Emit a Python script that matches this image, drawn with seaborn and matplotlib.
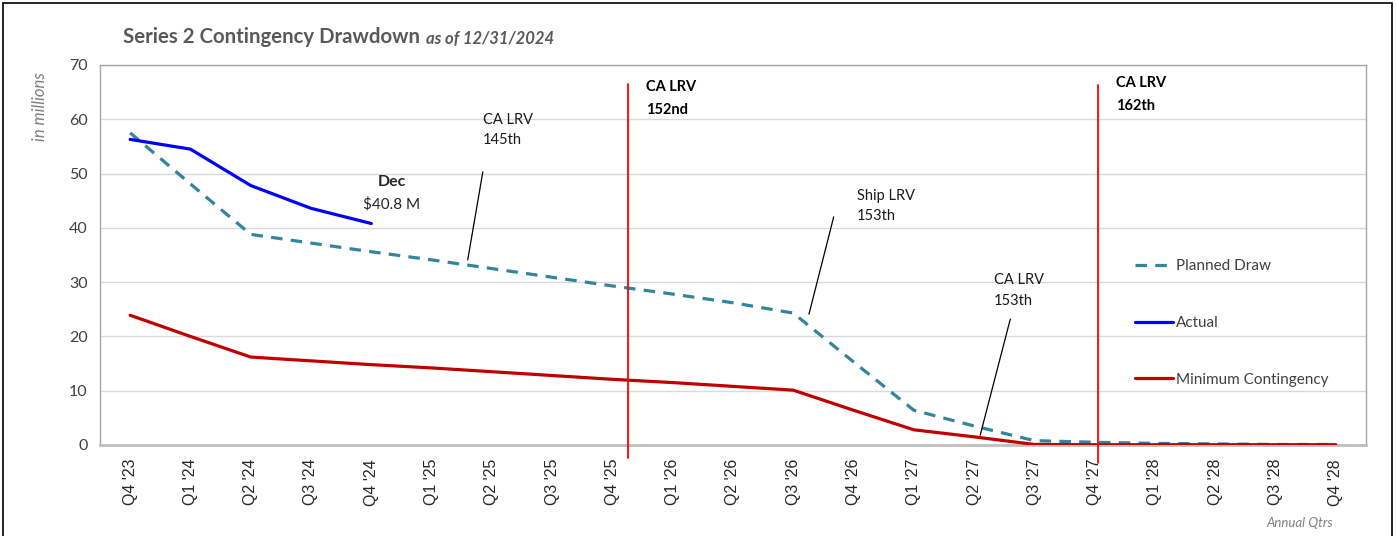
import matplotlib
matplotlib.use("Agg")
import matplotlib.pyplot as plt
from matplotlib.patches import Rectangle
import pandas as pd
import seaborn as sns

# Quarterly schedule
quarters = ["Q4 '23", "Q1 '24", "Q2 '24", "Q3 '24", "Q4 '24", "Q1 '25", "Q2 '25",
            "Q3 '25", "Q4 '25", "Q1 '26", "Q2 '26", "Q3 '26", "Q4 '26", "Q1 '27",
            "Q2 '27", "Q3 '27", "Q4 '27", "Q1 '28", "Q2 '28", "Q3 '28", "Q4 '28"]

# Contingency balances, $ millions
planned_draw = [57.5, 48.1, 38.8, 37.2, 35.6, 34.1, 32.5, 30.9, 29.3, 27.8, 26.2, 24.3,
                15.3, 6.4, 3.5, 0.8, 0.5, 0.3, 0.2, 0.1, 0.1]
actual_quarters = quarters[:5]
actual = [56.3, 54.5, 47.8, 43.6, 40.8]
minimum_contingency = [23.9, 20.0, 16.2, 15.5, 14.8, 14.2, 13.5, 12.8, 12.1, 11.5, 10.8,
                       10.1, 6.4, 2.8, 1.5, 0.1, 0.05, 0.05, 0.05, 0.05, 0.05]

series_names = ["Planned Draw", "Actual", "Minimum Contingency"]
y_ticks = [0, 10, 20, 30, 40, 50, 60, 70]

sns.set_style("white")
plt.rcParams["font.family"] = ["Lato", "DejaVu Sans"]

W, H = 1396, 536
fig = plt.figure(figsize=(W / 100, H / 100), dpi=100)
ax = fig.add_axes([100 / W, 91 / H, 1266 / W, 380 / H])

planned_df = pd.DataFrame({"quarter": quarters, "value": planned_draw})
actual_df = pd.DataFrame({"quarter": actual_quarters, "value": actual})
minimum_df = pd.DataFrame({"quarter": quarters, "value": minimum_contingency})

sns.lineplot(data=planned_df, x="quarter", y="value", sort=False, ax=ax,
             color="#31859C", linewidth=2.3, linestyle=(0, (3.6, 2.6)),
             label=series_names[0], zorder=3)
sns.lineplot(data=actual_df, x="quarter", y="value", sort=False, ax=ax,
             color="#0000FF", linewidth=2.3, label=series_names[1], zorder=4)
sns.lineplot(data=minimum_df, x="quarter", y="value", sort=False, ax=ax,
             color="#C00000", linewidth=2.3, label=series_names[2], zorder=3)

ax.set_xlim(-0.5, len(quarters) - 0.5)
ax.set_ylim(0, 70)
ax.set_yticks(y_ticks)
ax.set_yticklabels([str(v) for v in y_ticks], fontsize=11.5, color="#404040")
ax.set_xlabel("")
ax.set_ylabel("")
ax.grid(axis="y", color="#d9d9d9", linewidth=1)
ax.grid(axis="x", visible=False)
ax.set_axisbelow(True)
for side in ["top", "right", "left"]:
    ax.spines[side].set_color("#a6a6a6")
    ax.spines[side].set_linewidth(1)
ax.spines["bottom"].set_color("#bfbfbf")
ax.spines["bottom"].set_linewidth(2)
ax.tick_params(axis="y", length=0, pad=9)
ax.tick_params(axis="x", length=0, pad=10)
for lbl in ax.get_xticklabels():
    lbl.set_rotation(90)
    lbl.set_fontfamily("Liberation Sans")
    lbl.set_fontsize(11.5)
    lbl.set_color("#262626")

# Milestone markers (vehicle deliveries)
for xm, ytop, ybot in [(8.26, 66.5, -2.4), (16.06, 66.3, -3.3)]:
    ax.plot([xm, xm], [ybot, ytop], color="#FF0000", linewidth=1.3,
            clip_on=False, zorder=5)

ax.text(8.55, 67.3, "CA LRV\n152nd", fontsize=10.5, fontweight="bold",
        color="#000000", va="top", ha="left", linespacing=1.85)
ax.text(16.35, 68.0, "CA LRV\n162th", fontsize=10.5, fontweight="bold",
        color="#000000", va="top", ha="left", linespacing=1.85)

# Latest actual value
ax.text(4.34, 48.5, "Dec", fontsize=11.5, fontweight="bold", ha="center", va="center")
ax.text(4.34, 44.3, "$40.8 M", fontsize=11, ha="center", va="center")

# Callouts with leader lines
callouts = [
    ("CA LRV\n145th", (5.60, 34.1), (5.85, 50.3), (5.85, 61.2)),
    ("Ship LRV\n153th", (11.26, 24.1), (11.67, 42.0), (12.06, 47.2)),
    ("CA LRV\n153th", (14.10, 1.8), (14.60, 23.2), (14.33, 31.6)),
]
for text, tip, base, txt_pos in callouts:
    ax.plot([tip[0], base[0]], [tip[1], base[1]], color="#000000",
            linewidth=0.9, zorder=5)
    ax.text(txt_pos[0], txt_pos[1], text, fontsize=10.5, ha="left", va="top",
            linespacing=1.6, color="#1a1a1a")

leg = ax.legend(loc="center left", bbox_to_anchor=(1135 / W, 1 - 323 / H),
                bbox_transform=fig.transFigure, frameon=False, fontsize=11,
                labelspacing=2.8, handlelength=2.5, handletextpad=0.2,
                borderpad=0, borderaxespad=0)
for t in leg.get_texts():
    t.set_color("#404040")

# Title
t1 = fig.text(123 / W, 1 - 37 / H, "Series 2 Contingency Drawdown", fontsize=14.7,
              fontweight="bold", color="#595959", ha="left", va="center")
ax.annotate("as of 12/31/2024", xy=(1, 0), xycoords=t1, xytext=(4, 0),
            textcoords="offset points", fontsize=12, fontweight="bold",
            fontstyle="italic", color="#595959", ha="left", va="bottom",
            annotation_clip=False)

fig.text(40 / W, 1 - 107 / H, "in millions", rotation=90, fontsize=12,
         fontstyle="italic", color="#7f7f7f", ha="center", va="center")
fig.text(1333 / W, 1 - 523 / H, "Annual Qtrs", fontsize=9.5, fontstyle="italic",
         color="#7f7f7f", ha="right", va="center")

# Outer frame
fig.patches.append(Rectangle((3 / W, -0.05), 1389 / W, 1.05 - 3.5 / H,
                             transform=fig.transFigure, fill=False,
                             edgecolor="#000000", linewidth=1.2))

fig.savefig("out.png", dpi=100)
